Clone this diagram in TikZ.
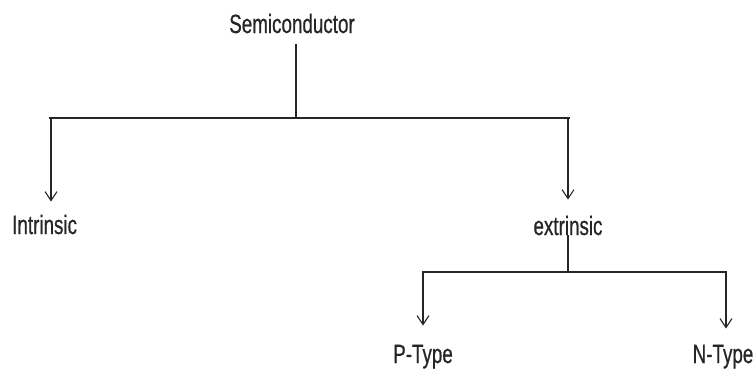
\documentclass[tikz,border=0pt]{standalone}
\usepackage{fontspec}
\setmainfont[FakeStretch=0.71,FakeBold=0.6]{Liberation Sans}
\usetikzlibrary{arrows.meta,calc}
\begin{document}
\begin{tikzpicture}[x=1pt,y=-1pt,
  lbl/.style={font=\fontsize{26.5}{27}\selectfont, inner sep=0pt, anchor=base, text=black!85},
  wire/.style={line width=1.3pt, draw=black!85},
  down/.style={wire, -{Straight Barb[length=9pt,width=12pt,line width=1.1pt]}}]
\useasboundingbox (0,0) rectangle (754,372);

% labels
\node[lbl] (sc) at (292,33) {Semiconductor};
\node[lbl, anchor=base west] (intr) at (12,234) {Intrinsic};
\node[lbl] (ext) at (568,235) {extrinsic};
\node[lbl] (pt) at (423,363) {P-Type};
\node[lbl] (nt) at (723,363) {N-Type};

% junction points
\coordinate (j1) at (296,118);
\coordinate (jl) at (51,118);
\coordinate (jr) at (568,118);
\coordinate (j2) at (568,272);
\coordinate (jp) at (423,272);
\coordinate (jn) at (726,272);

% first level
\draw[wire] ($(sc.south -| j1)+(0,11)$) -- (j1);
\draw[wire] ([xshift=-2pt]jl) -- ([xshift=2pt]jr);
\draw[down, shorten >=13pt] (jl) -- (intr.north -| jl);
\draw[down, shorten >=16pt] (jr) -- (ext.north -| jr);

% second level
\draw[wire] (ext.south -| j2) -- (j2);
\draw[wire] ([xshift=-1pt]jp) -- ([xshift=1pt]jn);
\draw[down, shorten >=19pt] (jp) -- (pt.north -| jp);
\draw[down, shorten >=16pt] (jn) -- (nt.north -| jn);
\end{tikzpicture}
\end{document}
